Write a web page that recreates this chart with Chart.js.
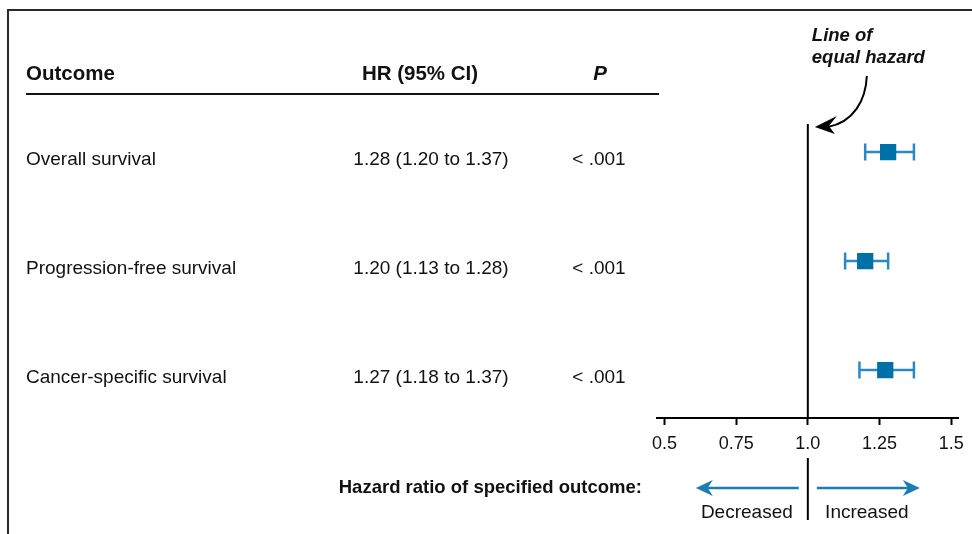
<!DOCTYPE html>
<html>
<head>
<meta charset="utf-8">
<script src="https://cdn.jsdelivr.net/npm/chart.js@4.4.1/dist/chart.umd.min.js"></script>
<style>
  html, body { margin: 0; padding: 0; background: #fff; }
  #wrap { width: 972px; height: 534px; position: relative; }
</style>
</head>
<body>
<div id="wrap"><canvas id="forest"></canvas></div>
<script>
// Outcomes, hazard ratios and 95% confidence limits
const outcomes = ['Overall survival', 'Progression-free survival', 'Cancer-specific survival'];
const hr      = [1.28, 1.20, 1.27];
const ciLow   = [1.20, 1.13, 1.18];
const ciHigh  = [1.37, 1.28, 1.37];
const pValues = ['< .001', '< .001', '< .001'];

// Axis ticks and their printed labels
const tickValues = [0.5, 0.75, 1.0, 1.25, 1.5];
const tickLabels = ['0.5', '0.75', '1.0', '1.25', '1.5'];

const FONT = '"Liberation Sans", Arial, Helvetica, sans-serif';
const SQUARE = '#0071a7';
const WHISKER = '#2a89c3';
const ARROW = '#1a7cb0';

// first row is drawn at the top
const rowY = i => outcomes.length - 1 - i;

const fmt = v => v.toFixed(2);
const hrText = outcomes.map((_, i) => `${fmt(hr[i])} (${fmt(ciLow[i])} to ${fmt(ciHigh[i])})`);

const squares = {
  label: 'HR',
  data: outcomes.map((_, i) => ({ x: hr[i], y: rowY(i) })),
  pointStyle: 'rect',
  pointRadius: 11.5,
  pointHoverRadius: 11.5,
  backgroundColor: SQUARE,
  borderWidth: 0,
  showLine: false
};

const whiskers = outcomes.map((name, i) => ({
  label: name,
  data: [{ x: ciLow[i], y: rowY(i) }, { x: ciHigh[i], y: rowY(i) }],
  showLine: true,
  borderColor: WHISKER,
  borderWidth: 2.5,
  pointStyle: 'line',
  pointRotation: 90,
  pointRadius: 8.5,
  pointHoverRadius: 8.5,
  pointBorderColor: WHISKER,
  pointBorderWidth: 2.5,
  pointBackgroundColor: WHISKER
}));

function arrowHead(ctx, tipX, tipY, dir, len, half) {
  ctx.beginPath();
  ctx.moveTo(tipX, tipY);
  ctx.lineTo(tipX - dir * len, tipY - half);
  ctx.lineTo(tipX - dir * len * 0.7, tipY);
  ctx.lineTo(tipX - dir * len, tipY + half);
  ctx.closePath();
  ctx.fill();
}

// Frame, table columns, reference line and annotations
const forestDecor = {
  id: 'forestDecor',
  beforeDatasetsDraw(chart) {
    const { ctx, chartArea, scales } = chart;
    const x1 = scales.x.getPixelForValue(1.0);
    ctx.save();
    ctx.strokeStyle = '#000';
    ctx.lineWidth = 2;
    ctx.beginPath();
    ctx.moveTo(x1, chartArea.top);
    ctx.lineTo(x1, chartArea.bottom);
    ctx.stroke();
    ctx.restore();
  },
  afterDraw(chart) {
    const { ctx, chartArea, scales } = chart;
    const x1 = scales.x.getPixelForValue(1.0);
    ctx.save();

    // outer frame (top and left edges)
    ctx.strokeStyle = '#2a2a2a';
    ctx.lineWidth = 2;
    ctx.beginPath();
    ctx.moveTo(8, 534);
    ctx.lineTo(8, 10);
    ctx.lineTo(972, 10);
    ctx.stroke();

    // table header
    ctx.fillStyle = '#111';
    ctx.textBaseline = 'middle';
    ctx.font = `bold 20.5px ${FONT}`;
    ctx.textAlign = 'left';
    ctx.fillText('Outcome', 26, 74);
    ctx.textAlign = 'center';
    ctx.fillText('HR (95% CI)', 420, 74);
    ctx.font = `italic bold 20.5px ${FONT}`;
    ctx.fillText('P', 600, 74);

    ctx.strokeStyle = '#111';
    ctx.lineWidth = 2;
    ctx.beginPath();
    ctx.moveTo(26, 94);
    ctx.lineTo(659, 94);
    ctx.stroke();

    // table rows
    ctx.font = `19px ${FONT}`;
    outcomes.forEach((name, i) => {
      const y = scales.y.getPixelForValue(rowY(i)) + 8;
      ctx.textAlign = 'left';
      ctx.fillText(name, 26, y);
      ctx.textAlign = 'center';
      ctx.fillText(hrText[i], 431, y);
      ctx.fillText(pValues[i], 599, y);
    });

    // "Line of equal hazard" callout
    ctx.font = `italic bold 18.5px ${FONT}`;
    ctx.textAlign = 'left';
    ctx.fillText('Line of', x1 + 4, 36);
    ctx.fillText('equal hazard', x1 + 4, 58);

    const t = chartArea.top;
    ctx.strokeStyle = '#000';
    ctx.fillStyle = '#000';
    ctx.lineWidth = 2;
    ctx.beginPath();
    ctx.moveTo(x1 + 59, 76);
    ctx.bezierCurveTo(x1 + 58, 100, x1 + 46, t - 2, x1 + 20, t + 3);
    ctx.stroke();
    ctx.beginPath();
    ctx.moveTo(x1 + 7, t + 3);
    ctx.lineTo(x1 + 29, t - 8);
    ctx.lineTo(x1 + 21, t + 2);
    ctx.lineTo(x1 + 27, t + 10);
    ctx.closePath();
    ctx.fill();

    // direction key below the axis
    const b = chartArea.bottom;
    ctx.strokeStyle = '#000';
    ctx.lineWidth = 2;
    ctx.beginPath();
    ctx.moveTo(x1, b + 40);
    ctx.lineTo(x1, b + 102);
    ctx.stroke();

    const ay = b + 70;
    ctx.strokeStyle = ARROW;
    ctx.fillStyle = ARROW;
    ctx.lineWidth = 2.5;
    ctx.beginPath();
    ctx.moveTo(x1 - 9, ay);
    ctx.lineTo(x1 - 104, ay);
    ctx.moveTo(x1 + 9, ay);
    ctx.lineTo(x1 + 104, ay);
    ctx.stroke();
    arrowHead(ctx, x1 - 112, ay, -1, 17, 8);
    arrowHead(ctx, x1 + 112, ay, 1, 17, 8);

    ctx.fillStyle = '#111';
    ctx.font = `19px ${FONT}`;
    ctx.textAlign = 'center';
    ctx.fillText('Decreased', x1 - 61, b + 95);
    ctx.fillText('Increased', x1 + 59, b + 95);

    ctx.font = `bold 18.5px ${FONT}`;
    ctx.textAlign = 'right';
    ctx.fillText('Hazard ratio of specified outcome:', 642, b + 70);

    ctx.restore();
  }
};

new Chart(document.getElementById('forest'), {
  type: 'scatter',
  data: { datasets: [squares, ...whiskers] },
  options: {
    responsive: true,
    maintainAspectRatio: false,
    animation: false,
    events: [],
    layout: { padding: { left: 657, right: 10, top: 124, bottom: 0 } },
    plugins: { legend: { display: false }, tooltip: { enabled: false } },
    scales: {
      x: {
        type: 'linear',
        min: 0.474,
        max: 1.526,
        afterBuildTicks: scale => { scale.ticks = tickValues.map(v => ({ value: v })); },
        afterFit: scale => { scale.height = 116; },
        ticks: {
          autoSkip: false,
          maxRotation: 0,
          padding: 8,
          color: '#111',
          font: { family: FONT, size: 18 },
          callback: (value, index) => tickLabels[index]
        },
        grid: {
          display: true,
          drawOnChartArea: false,
          drawTicks: true,
          tickLength: 7,
          tickColor: '#000',
          tickWidth: 2
        },
        border: { display: true, color: '#000', width: 2 }
      },
      y: {
        type: 'linear',
        display: false,
        min: -0.44,
        max: 2.257
      }
    }
  },
  plugins: [forestDecor]
});
</script>
</body>
</html>
